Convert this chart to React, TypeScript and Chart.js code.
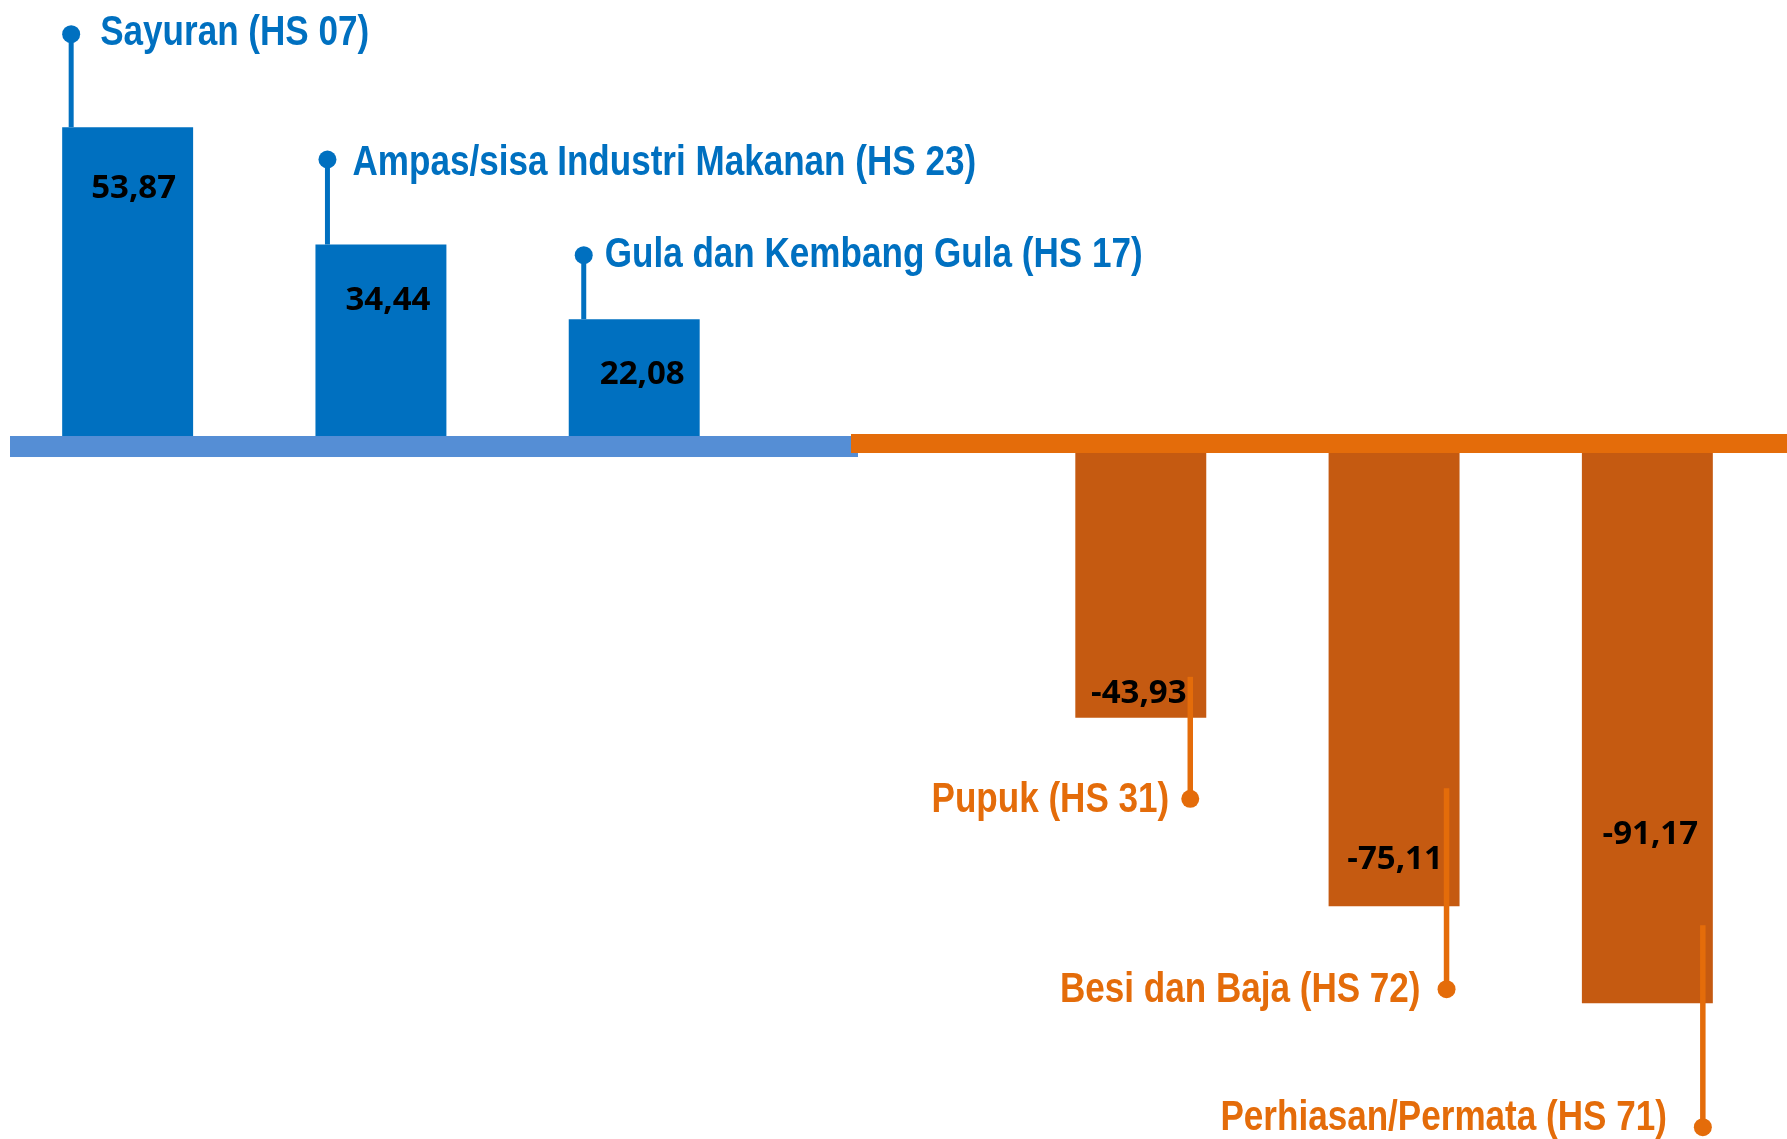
import React, { useEffect, useRef } from "react";
import { Chart, registerables } from "chart.js";

Chart.register(...registerables);

// ---- data ----
const CATEGORIES = [
  "Sayuran (HS 07)",
  "Ampas/sisa Industri Makanan (HS 23)",
  "Gula dan Kembang Gula (HS 17)",
  "",
  "Pupuk (HS 31)",
  "Besi dan Baja (HS 72)",
  "Perhiasan/Permata (HS 71)",
];
const VALUES: (number | null)[] = [53.87, 34.44, 22.08, null, -43.93, -75.11, -91.17];

// ---- styling / callout layout (pixels, relative to each bar) ----
const BLUE = "#0070C0";
const BLUE_BAND = "#558ED5";
const ORANGE_BAR = "#C55A11";
const ORANGE = "#E46C0A";
const CALLOUT = [
  { rise: 93, lineX: 9, gap: 29, dy: 11 },
  { rise: 85, lineX: 12, gap: 25, dy: 16 },
  { rise: 64, lineX: 15, gap: 21, dy: 12 },
  null,
  { drop: 81, lineIn: 41, lineX: 16, gap: 21, dy: 13 },
  { drop: 83, lineIn: 118, lineX: 13, gap: 26, dy: 13 },
  { drop: 124, lineIn: 78, lineX: 10, gap: 36, dy: 3 },
];
const VALUE_LABEL = [
  { dx: 6, dy: 71 },
  { dx: 7, dy: 66 },
  { dx: 8, dy: 65 },
  null,
  { dx: -2, dy: 15 },
  { dx: 1, dy: 37 },
  { dx: 3, dy: 159 },
];

const CALLOUT_FONT = 'bold 42px "Liberation Sans", Arial, sans-serif';
const NARROW_SCALE = 0.835;
const VALUE_FONT = 'bold 33px "Open Sans", "Noto Sans", sans-serif';

const fmt = (v: number) => v.toFixed(2).replace(".", ",");

function narrowText(ctx: CanvasRenderingContext2D, text: string, x: number, y: number, align: CanvasTextAlign) {
  ctx.save();
  ctx.translate(x, y);
  ctx.scale(NARROW_SCALE, 1);
  ctx.textAlign = align;
  ctx.textBaseline = "alphabetic";
  ctx.font = CALLOUT_FONT;
  ctx.fillText(text, 0, 0);
  ctx.restore();
}

const overlayPlugin = {
  id: "overlay",
  afterDatasetsDraw(chart: any) {
    const ctx: CanvasRenderingContext2D = chart.ctx;
    const y0 = chart.scales.y.getPixelForValue(0);
    const W = chart.width;
    ctx.save();
    // baselines
    ctx.fillStyle = BLUE_BAND;
    ctx.fillRect(10, y0 - 16.5, 848, 21);
    ctx.fillStyle = ORANGE;
    ctx.fillRect(851, y0 - 18.5, W - 851, 19);

    const meta = chart.getDatasetMeta(0);
    meta.data.forEach((bar: any, i: number) => {
      const v = VALUES[i];
      const c: any = CALLOUT[i];
      const vl: any = VALUE_LABEL[i];
      if (v == null || !c) return;
      const left = bar.x - bar.width / 2;
      const right = bar.x + bar.width / 2;
      // value label
      ctx.fillStyle = "#000";
      ctx.font = VALUE_FONT;
      ctx.textAlign = "center";
      ctx.textBaseline = "alphabetic";
      if (v > 0) {
        ctx.fillText(fmt(v), bar.x + vl.dx, bar.y + vl.dy);
      } else {
        ctx.fillText(fmt(v), bar.x + vl.dx, bar.y - vl.dy);
      }
      // callout
      if (v > 0) {
        const lx = left + c.lineX;
        const dotY = bar.y - c.rise;
        ctx.strokeStyle = BLUE;
        ctx.fillStyle = BLUE;
        ctx.lineWidth = 5;
        ctx.beginPath();
        ctx.moveTo(lx, bar.y);
        ctx.lineTo(lx, dotY);
        ctx.stroke();
        ctx.beginPath();
        ctx.arc(lx, dotY, 9, 0, Math.PI * 2);
        ctx.fill();
        narrowText(ctx, CATEGORIES[i], lx + c.gap, dotY + c.dy, "left");
      } else {
        const lx = right - c.lineX;
        const dotY = bar.y + c.drop;
        ctx.strokeStyle = ORANGE;
        ctx.fillStyle = ORANGE;
        ctx.lineWidth = 5.5;
        ctx.beginPath();
        ctx.moveTo(lx, bar.y - c.lineIn);
        ctx.lineTo(lx, dotY);
        ctx.stroke();
        ctx.beginPath();
        ctx.arc(lx, dotY, 9, 0, Math.PI * 2);
        ctx.fill();
        narrowText(ctx, CATEGORIES[i], lx - c.gap, dotY + c.dy, "right");
      }
    });
    ctx.restore();
  },
};

export default function App() {
  const ref = useRef<HTMLCanvasElement>(null);
  useEffect(() => {
    if (!ref.current) return;
    const chart = new Chart(ref.current, {
      type: "bar",
      data: {
        labels: CATEGORIES,
        datasets: [
          {
            data: VALUES as any,
            backgroundColor: VALUES.map((v) => (v != null && v < 0 ? ORANGE_BAR : BLUE)),
            borderWidth: 0,
            barPercentage: 0.517,
            categoryPercentage: 1,
          },
        ],
      },
      options: {
        responsive: false,
        animation: false,
        layout: { padding: { left: 1, right: 13, top: 0, bottom: 0 } },
        plugins: { legend: { display: false }, tooltip: { enabled: false } },
        scales: {
          x: { display: false, grid: { display: false } },
          y: { display: false, min: -113.66, max: 74.92, grid: { display: false } },
        },
      },
      plugins: [overlayPlugin],
    });
    return () => chart.destroy();
  }, []);
  return (
    <div style={{ position: "absolute", left: 0, top: 0, width: 1787, height: 1139, background: "#fff" }}>
      <canvas ref={ref} width={1787} height={1139} style={{ display: "block" }} />
    </div>
  );
}
